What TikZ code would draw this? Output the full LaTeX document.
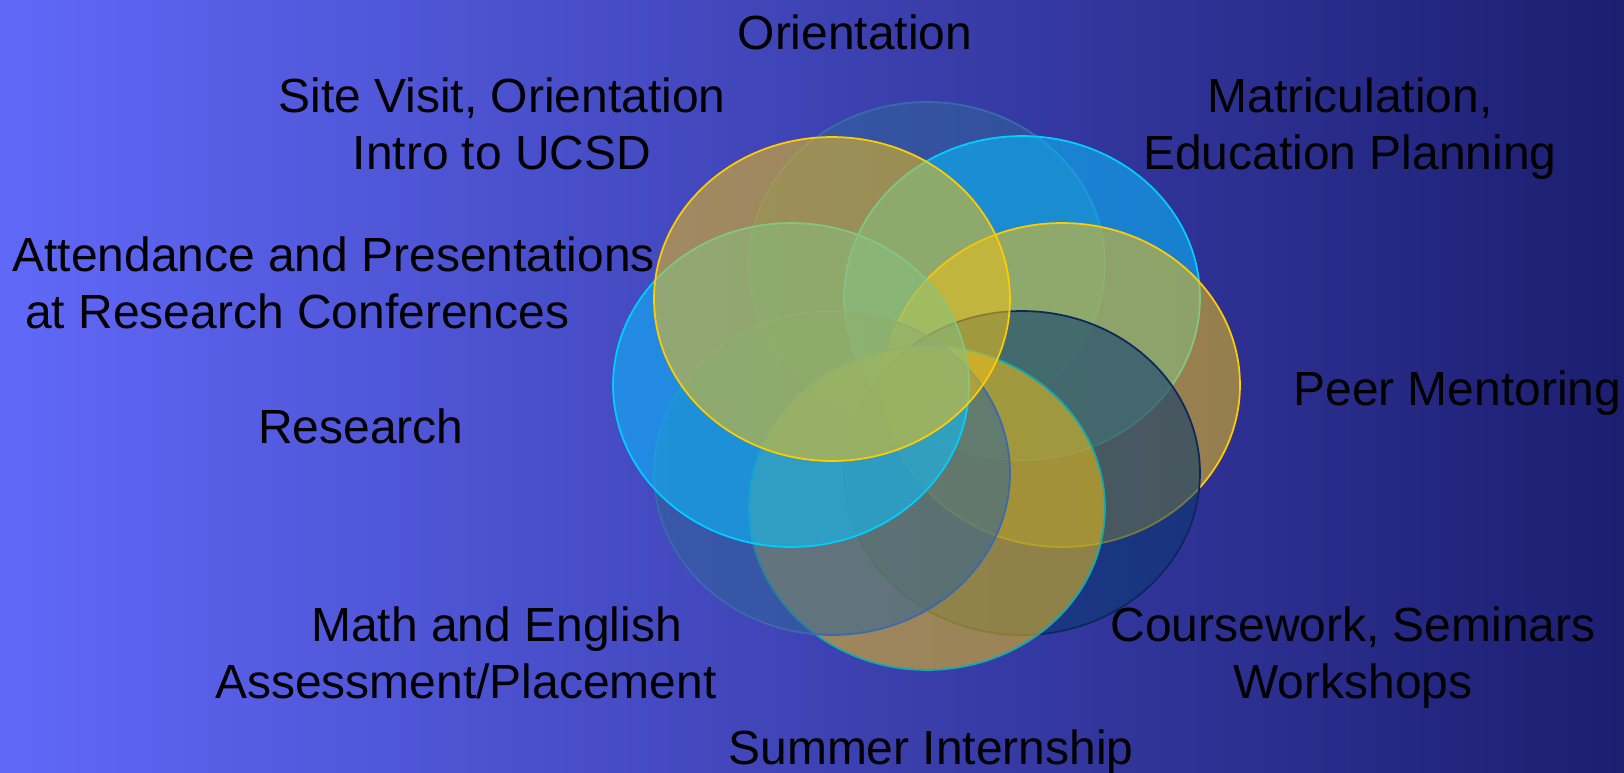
\documentclass[tikz,border=0pt]{standalone}
\usepackage{fontspec}
\setmainfont{Liberation Sans}
\usepackage{tikz}
\usetikzlibrary{positioning}

\definecolor{bgleft}{RGB}{96,104,248}
\definecolor{bgmid}{RGB}{74,80,204}
\definecolor{bgright}{RGB}{28,30,112}
\definecolor{steelfill}{RGB}{48,100,152}
\definecolor{steeledge}{RGB}{58,106,172}
\definecolor{cyanfill}{RGB}{8,192,255}
\definecolor{cyanedge}{RGB}{0,206,255}
\definecolor{goldfill}{RGB}{238,192,24}
\definecolor{goldedge}{RGB}{255,204,0}
\definecolor{navyfill}{RGB}{7,55,110}
\definecolor{navyedge}{RGB}{10,40,92}
\definecolor{tealedge}{RGB}{20,170,170}

\begin{document}
\begin{tikzpicture}[x=0.02cm, y=-0.02cm,
    bubble/.style={line width=1pt, fill opacity=0.55},
    lbl/.style={inner sep=0pt, font=\fontsize{27.3pt}{31.9pt}\selectfont, text=black}]
        % background
        \shade[left color=bgleft, middle color=bgmid, right color=bgright] (0,0) rectangle (1624,772);
        \useasboundingbox (0,0) rectangle (1624,772);
        % ring of ellipses
        \coordinate (E1) at (927,264);
        \coordinate (E2) at (1022,298);
        \coordinate (E3) at (1062,385);
        \coordinate (E4) at (1022,473);
        \coordinate (E5) at (927,508);
        \coordinate (E6) at (832,473);
        \coordinate (E7) at (791,385);
        \coordinate (E8) at (832,299);
        \draw[bubble, fill=steelfill, draw=steeledge] (E1) ellipse [x radius=3.56cm, y radius=3.24cm];
        \draw[bubble, fill=cyanfill, draw=cyanedge] (E2) ellipse [x radius=3.56cm, y radius=3.24cm];
        \draw[bubble, fill=goldfill, draw=goldedge] (E3) ellipse [x radius=3.56cm, y radius=3.24cm];
        \draw[bubble, fill=navyfill, draw=navyedge] (E4) ellipse [x radius=3.56cm, y radius=3.24cm];
        \draw[bubble, fill=goldfill, draw=tealedge] (E5) ellipse [x radius=3.56cm, y radius=3.24cm];
        \draw[bubble, fill=steelfill, draw=steeledge] (E6) ellipse [x radius=3.56cm, y radius=3.24cm];
        \draw[bubble, fill=cyanfill, draw=cyanedge] (E7) ellipse [x radius=3.56cm, y radius=3.24cm];
        \draw[bubble, fill=goldfill, draw=goldedge] (E8) ellipse [x radius=3.56cm, y radius=3.24cm];
        % labels (multi-line ones sit on their last baseline)
        \node[lbl, anchor=base] (orient) at (855,49) {Orientation};
        \node[lbl, anchor=base, align=center] (site) at (502,169) {Site Visit, Orientation\\Intro to UCSD};
        \node[lbl, anchor=base, align=center] (matric) at (1350,169) {Matriculation,\\Education Planning};
        \node[lbl, anchor=base west, align=left] (attend) at (12,328) {Attendance and Presentations\\\hspace*{0.27em}at Research Conferences};
        \node[lbl, anchor=base west] (research) at (258,443) {Research};
        \node[lbl, anchor=base west, align=left] (math) at (215,698) {\hspace*{2em}Math and English\\Assessment/Placement};
        \node[lbl, anchor=base, align=center] (course) at (1353,698) {Coursework, Seminars\\Workshops};
        \node[lbl, anchor=base west] (peer) at (1293,405) {Peer Mentoring};
        \node[lbl, anchor=base] (summer) at (931,764) {Summer Internship};
\end{tikzpicture}
\end{document}
